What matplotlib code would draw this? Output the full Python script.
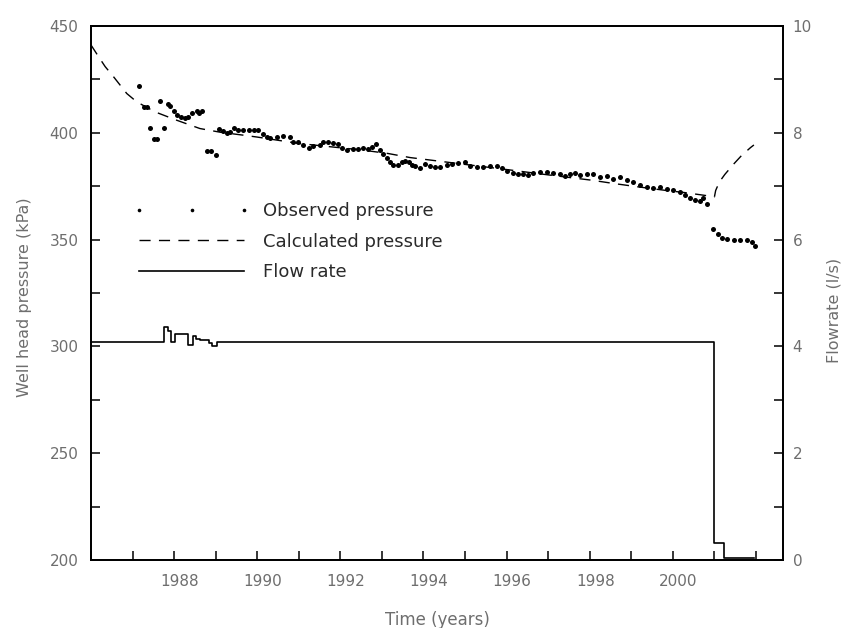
import matplotlib
matplotlib.use("Agg")
import matplotlib.pyplot as plt
from matplotlib.lines import Line2D
from matplotlib.ticker import MultipleLocator
from matplotlib.transforms import ScaledTranslation

# ---------------- data ----------------
obs_time = [1987.16, 1987.28, 1987.34, 1987.42, 1987.52, 1987.60, 1987.67, 1987.76,
            1987.85, 1987.90, 1988.00, 1988.08, 1988.16, 1988.25, 1988.33, 1988.44,
            1988.54, 1988.61, 1988.68, 1988.78, 1988.89, 1989.01, 1989.09, 1989.17,
            1989.27, 1989.34, 1989.44, 1989.54, 1989.66, 1989.79, 1989.91, 1990.03,
            1990.13, 1990.24, 1990.31, 1990.47, 1990.63, 1990.79, 1990.87, 1990.99,
            1991.11, 1991.25, 1991.35, 1991.51, 1991.59, 1991.71, 1991.83, 1991.95,
            1992.03, 1992.15, 1992.31, 1992.43, 1992.55, 1992.67, 1992.75, 1992.86,
            1992.95, 1993.03, 1993.11, 1993.19, 1993.27, 1993.39, 1993.48, 1993.56,
            1993.64, 1993.72, 1993.80, 1993.92, 1994.04, 1994.16, 1994.28, 1994.40,
            1994.56, 1994.68, 1994.84, 1995.00, 1995.12, 1995.28, 1995.44, 1995.60,
            1995.76, 1995.88, 1996.00, 1996.16, 1996.28, 1996.40, 1996.52, 1996.64,
            1996.80, 1996.96, 1997.12, 1997.28, 1997.40, 1997.53, 1997.65, 1997.77,
            1997.93, 1998.09, 1998.25, 1998.41, 1998.57, 1998.73, 1998.89, 1999.05,
            1999.21, 1999.37, 1999.53, 1999.69, 1999.85, 2000.01, 2000.17, 2000.29,
            2000.41, 2000.53, 2000.65, 2000.73, 2000.81, 2000.97, 2001.09, 2001.18,
            2001.30, 2001.46, 2001.62, 2001.78, 2001.90, 2001.98]
obs_pressure = [422.0, 412.2, 412.2, 402.3, 397.3, 397.3, 414.8, 402.3,
                413.7, 412.7, 410.3, 408.1, 407.4, 407.0, 407.3, 409.3,
                410.3, 409.5, 410.3, 391.4, 391.4, 389.8, 402.0, 400.8,
                400.0, 400.2, 402.3, 401.5, 401.2, 401.2, 401.2, 401.2,
                399.3, 398.0, 397.5, 397.8, 398.4, 398.1, 395.8, 395.8,
                394.2, 392.7, 393.8, 394.2, 395.8, 395.8, 395.0, 394.7,
                392.9, 391.9, 392.2, 392.2, 392.7, 392.2, 393.4, 394.7,
                391.9, 390.0, 388.4, 386.4, 384.8, 384.8, 386.4, 386.8,
                386.4, 385.1, 384.5, 383.6, 385.3, 384.5, 384.0, 384.0,
                384.8, 385.6, 385.9, 386.4, 384.5, 384.0, 384.0, 384.3,
                384.6, 383.3, 382.3, 381.2, 380.9, 380.9, 380.1, 381.4,
                381.7, 381.7, 381.4, 380.9, 379.8, 380.5, 381.2, 380.1,
                380.6, 380.5, 379.4, 379.7, 378.6, 379.4, 378.1, 377.0,
                375.5, 374.4, 374.2, 374.7, 373.9, 373.1, 372.3, 370.8,
                369.6, 368.7, 367.9, 369.6, 366.8, 355.1, 352.8, 350.7,
                350.1, 349.9, 349.6, 349.6, 348.8, 346.8]

calc_time = [1986.00, 1986.17, 1986.34, 1986.54, 1986.86, 1987.10, 1987.54, 1988.06,
             1988.62, 1989.10, 1989.66, 1990.00, 1990.50, 1991.00, 1991.50, 1991.99,
             1992.50, 1993.15, 1993.68, 1994.18, 1995.00, 1996.00, 1997.00, 1998.05,
             1998.60, 1999.20, 1999.80, 2000.29, 2000.77, 2001.00, 2001.03, 2001.12,
             2001.25, 2001.46, 2001.65, 2001.87, 2001.95]
calc_pressure = [441.1, 436.0, 431.0, 426.3, 418.4, 414.5, 409.8, 405.9,
                 402.0, 400.3, 398.9, 398.0, 396.5, 395.0, 394.0, 393.0,
                 392.0, 390.3, 388.4, 387.2, 385.2, 382.8, 380.3, 377.8,
                 376.2, 374.6, 373.1, 372.0, 370.7, 370.0, 373.0, 377.0,
                 380.5, 385.3, 389.3, 393.1, 394.3]

flow_time = [1986.00, 1987.76, 1987.86, 1987.92, 1988.01, 1988.34, 1988.45, 1988.53,
             1988.62, 1988.85, 1988.91, 1989.02, 2001.00, 2001.24, 2001.95]
flow_rate = [4.08, 4.37, 4.28, 4.08, 4.23, 4.03, 4.19, 4.14,
             4.12, 4.07, 4.01, 4.08, 0.31, 0.04, 0.04]

xticks_major = [1988, 1990, 1992, 1994, 1996, 1998, 2000]
legend_labels = ["Observed pressure", "Calculated pressure", "Flow rate"]

# ---------------- figure ----------------
plt.rcParams['font.family'] = ['DejaVu Sans']
TICK_COLOR = '#6e6e6e'

fig = plt.figure(figsize=(8.45, 6.28), dpi=100)
ax = fig.add_axes([91/845, 1 - 560/628, (783 - 91)/845, (560 - 26)/628])
ax2 = ax.twinx()

ax.plot(obs_time, obs_pressure, ls='none', marker='o', ms=3.6, color='black', mew=0)
ax.plot(calc_time, calc_pressure, color='black', lw=1.0, dashes=(8, 6))
ax2.plot(flow_time, flow_rate, color='black', lw=1.2, drawstyle='steps-post')

ax.set_xlim(1986.0, 2002.65)
ax.set_ylim(200, 450)
ax2.set_ylim(0, 10)

ax.set_xticks(xticks_major)
ax.xaxis.set_minor_locator(MultipleLocator(1))
ax.yaxis.set_major_locator(MultipleLocator(50))
ax.yaxis.set_minor_locator(MultipleLocator(25))
ax2.yaxis.set_major_locator(MultipleLocator(2))
ax2.yaxis.set_minor_locator(MultipleLocator(1))

for a in (ax, ax2):
    for s in a.spines.values():
        s.set_linewidth(1.3)
        s.set_color('black')

ax.tick_params(axis='both', which='both', direction='in', length=6.5, width=1.1,
               colors='black', labelcolor=TICK_COLOR, labelsize=11)
ax.tick_params(axis='y', which='both', right=False, pad=9)
ax.tick_params(axis='x', which='both', top=False, pad=10)
ax2.tick_params(axis='y', which='both', direction='in', length=6.5, width=1.1,
                colors='black', labelcolor=TICK_COLOR, labelsize=11, pad=7, left=False)

offset = ScaledTranslation(4/72, 0, fig.dpi_scale_trans)
for lab in ax.get_xticklabels():
    lab.set_transform(lab.get_transform() + offset)

ax.set_xlabel("Time (years)", fontsize=12, color=TICK_COLOR)
ax.xaxis.set_label_coords(0.5, -(611 - 560)/534, transform=ax.transAxes)
ax.xaxis.label.set_va('top')
ax.set_ylabel("Well head pressure (kPa)", fontsize=11.5, color=TICK_COLOR)
ax.yaxis.set_label_coords((25 - 91)/692, (560 - 297)/534)
ax.yaxis.label.set_va('center')
ax2.set_ylabel("Flowrate (l/s)", fontsize=11.5, color=TICK_COLOR)
ax2.yaxis.set_label_coords((834 - 91)/692, (560 - 310)/534)
ax2.yaxis.label.set_va('center')

handles = [Line2D([], [], ls='none', marker='o', ms=2.6, color='black', mew=0),
           Line2D([], [], color='black', lw=1.0, dashes=(8, 6)),
           Line2D([], [], color='black', lw=1.2)]
leg = ax.legend(handles, legend_labels, loc='upper left',
                bbox_to_anchor=((134 - 91)/692, (560 - 202)/534),
                frameon=False, fontsize=13, numpoints=3, handlelength=6.4,
                handletextpad=0.75, labelspacing=0.7, borderpad=0, borderaxespad=0)
for t in leg.get_texts():
    t.set_color('#2a2a2a')

fig.savefig("out.png", dpi=100)
